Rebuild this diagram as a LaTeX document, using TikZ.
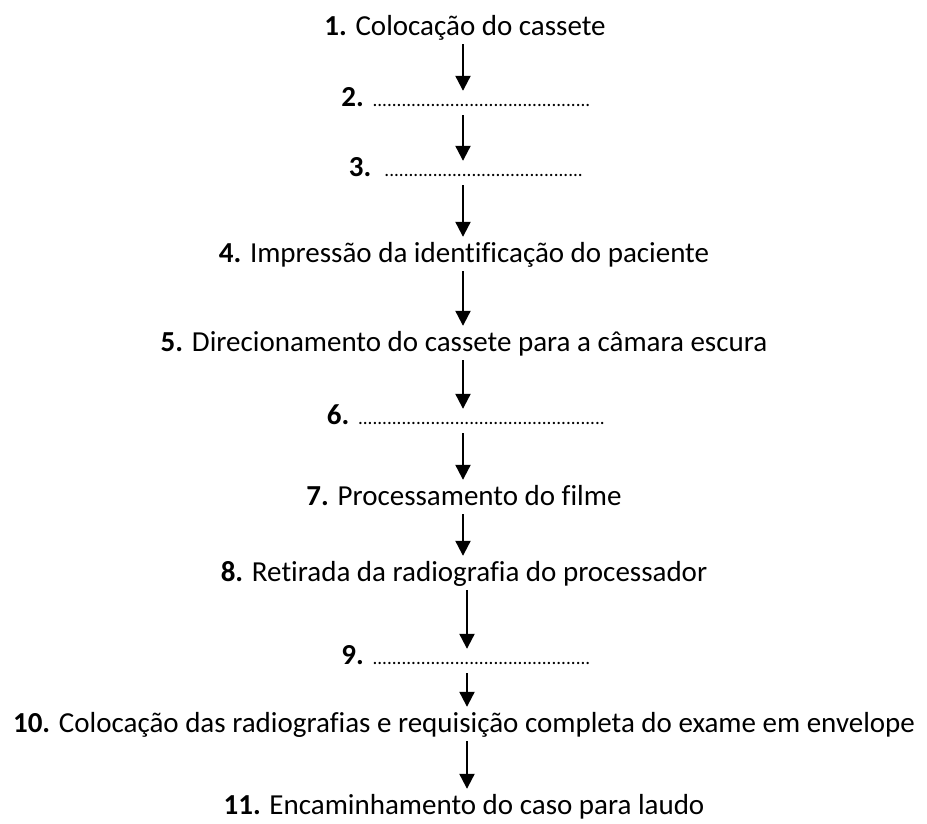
\documentclass[tikz,border=0pt]{standalone}
\usepackage{fontspec}
\setmainfont{Carlito}[Ligatures=NoCommon]
\usetikzlibrary{arrows.meta}

\tikzset{
  stepline/.style={inner xsep=0pt, inner ysep=5pt, text height=20pt, text depth=4pt,
    font=\fontsize{29}{34}\selectfont},
  blankline/.style={stepline, text height=10pt},
  flowarrow/.style={line width=2.2pt, -{Triangle[width=15pt,length=15pt]}},
}
\newcommand{\dotrow}[1]{{\fontsize{19.2}{22}\selectfont\foreach \i in {1,...,#1}{.}}}

\begin{document}
\begin{tikzpicture}[x=1pt,y=1pt]
  \useasboundingbox (0,0) rectangle (927,-823);
  \coordinate (ax) at (463,0);
  \coordinate (bx) at (467,0);

  \node[stepline, anchor=base] (s1) at (465,-35) {\textbf{1.} Colocação do cassete};
  \node[blankline, anchor=base] (s2) at (466,-106) {\textbf{2.} \dotrow{45}};
  \node[blankline, anchor=base] (s3) at (466,-176) {\textbf{3.}\ \ \dotrow{41}};
  \node[stepline, anchor=base] (s4) at (464,-262) {\textbf{4.} Impressão da identificação do paciente};
  \node[stepline, anchor=base] (s5) at (464,-351) {\textbf{5.} Direcionamento do cassete para a câmara escura};
  \node[blankline, anchor=base] (s6) at (466,-424) {\textbf{6.} \dotrow{51}};
  \node[stepline, anchor=base] (s7) at (464,-505) {\textbf{7.} Processamento do filme};
  \node[stepline, anchor=base] (s8) at (464,-581) {\textbf{8.} Retirada da radiografia do processador};
  \node[blankline, anchor=base] (s9) at (466,-664) {\textbf{9.} \dotrow{45}};
  \node[stepline, anchor=base] (s10) at (464,-732) {\textbf{10.} Colocação das radiografias e requisição completa do exame em envelope};
  \node[stepline, anchor=base] (s11) at (464,-814) {\textbf{11.} Encaminhamento do caso para laudo};

  % arrows between the steps
  \foreach \a/\b in {s1/s2, s2/s3, s3/s4, s4/s5, s5/s6, s6/s7, s7/s8} {
    \draw[flowarrow] (\a.south -| ax) -- (\b.north -| ax);
  }
  \foreach \a/\b in {s8/s9, s9/s10, s10/s11} {
    \draw[flowarrow] (\a.south -| bx) -- (\b.north -| bx);
  }
\end{tikzpicture}
\end{document}
